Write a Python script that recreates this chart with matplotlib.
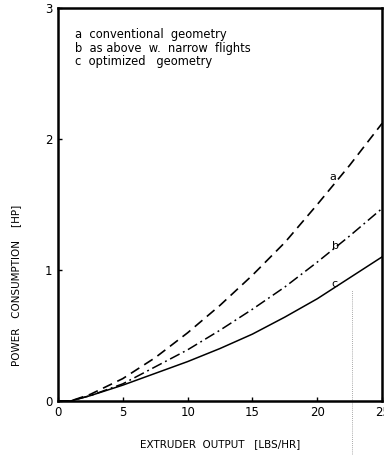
"""Power consumption vs. extruder output for three screw geometries."""

import matplotlib.pyplot as plt

# extruder output, lbs/hr
output = [0, 1, 2.5, 5, 7.5, 10, 12.5, 15, 17.5, 20, 22.5, 25]
# power consumption, hp
power_a = [0, 0, 0.05, 0.17, 0.33, 0.52, 0.73, 0.96, 1.21, 1.50, 1.80, 2.12]
power_b = [0, 0, 0.04, 0.13, 0.26, 0.39, 0.54, 0.70, 0.87, 1.06, 1.26, 1.47]
power_c = [0, 0, 0.04, 0.12, 0.21, 0.30, 0.40, 0.51, 0.64, 0.78, 0.94, 1.10]

legend_lines = ["a  conventional  geometry",
                "b  as above  w.  narrow  flights",
                "c  optimized   geometry"]

plt.rcParams["font.family"] = ["DejaVu Sans"]

fig = plt.figure(figsize=(3.84, 4.55), dpi=100)
ax = fig.add_axes([0.151, 0.119, 0.844, 0.863])

ax.plot(output, power_a, color="black", lw=1.2, dashes=(6, 3.5))
ax.plot(output, power_b, color="black", lw=1.1, dashes=(7, 2.5, 1.2, 2.5))
ax.plot(output, power_c, color="black", lw=1.1)

# curve letters
ax.text(21.2, 1.71, "a", fontsize=8, ha="center", va="center")
ax.text(21.4, 1.18, "b", fontsize=8, ha="center", va="center")
ax.text(21.3, 0.89, "c", fontsize=8, ha="center", va="center")

# key in the upper left
for i, line in enumerate(legend_lines):
    ax.text(1.3, 2.8 - i * 0.105, line, fontsize=8.3, ha="left", va="center")

# faint scan mark
ax.plot([22.7, 22.7], [-0.45, 0.85], color="0.55", lw=0.6, ls=(0, (1, 1.5)),
        clip_on=False)

ax.set_xlim(0, 25)
ax.set_ylim(0, 3)
ax.set_xticks([0, 5, 10, 15, 20, 25])
ax.set_yticks([0, 1, 2, 3])
ax.tick_params(direction="in", length=3, width=1, labelsize=8.5, pad=4)
for side in ["left", "bottom", "top", "right"]:
    ax.spines[side].set_linewidth(1.8)

ax.set_xlabel("EXTRUDER  OUTPUT   [LBS/HR]", fontsize=7.5, labelpad=14)
ax.set_ylabel("POWER   CONSUMPTION    [HP]", fontsize=7.5, labelpad=14)
ax.yaxis.set_label_coords(-0.115, 0.295)

fig.savefig("out.png", dpi=100)
